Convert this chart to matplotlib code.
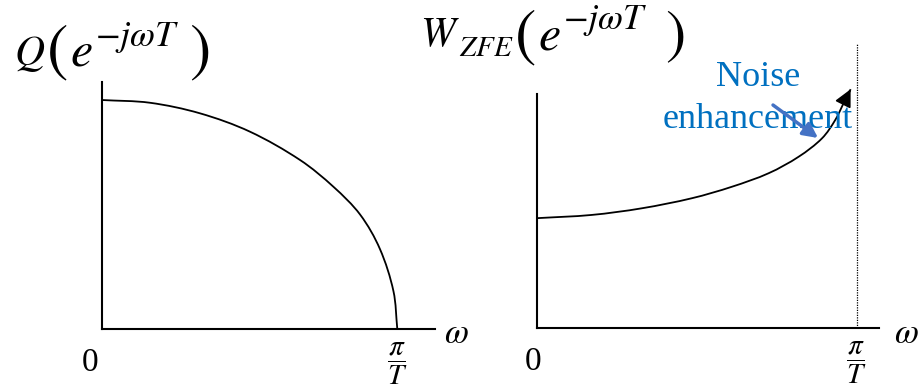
import matplotlib.pyplot as plt
from matplotlib.path import Path
from matplotlib.patches import PathPatch

plt.rcParams['mathtext.fontset'] = 'stix'
plt.rcParams['font.family'] = ['Liberation Serif', 'DejaVu Serif']

# normalised frequency (1 = pi/T) and magnitude samples of the two sketches
omega_q = [0.0, 0.163, 0.332, 0.501, 0.671, 0.784, 0.874, 0.941, 0.987, 1.0]
q_mag = [1.0, 0.988, 0.942, 0.862, 0.738, 0.621, 0.500, 0.350, 0.165, 0.0]

omega_w = [0.0, 0.170, 0.327, 0.484, 0.609, 0.724, 0.818, 0.891, 0.933, 0.959, 0.981]
w_mag = [0.481, 0.495, 0.524, 0.568, 0.618, 0.677, 0.749, 0.829, 0.910, 0.983, 1.044]

tick_labels = ['0', r'$\dfrac{\pi}{T}$']
x_label = r'$\omega$'
title_names = [r'$Q$', r'$W$']
title_sub = r'$ZFE$'
title_base = r'$e$'
title_exp = r'$-j\omega T$'
note = 'Noise\nenhancement'

W, H = 924, 386
fig = plt.figure(figsize=(W / 100, H / 100), dpi=100)


def px_axes(x0, x1, y_top, y_bot):
    return fig.add_axes([x0 / W, (H - y_bot) / H, (x1 - x0) / W, (y_bot - y_top) / H])


def px_text(x, y, s, **kw):
    return fig.text(x / W, 1 - y / H, s, **kw)


def style(ax):
    for s in ['top', 'right']:
        ax.spines[s].set_visible(False)
    for s in ['left', 'bottom']:
        ax.spines[s].set_linewidth(1.5)
    ax.set_xticks([])
    ax.set_yticks([])
    ax.patch.set_alpha(0)


def smooth_curve(ax, xs, ys, **kw):
    # chord-length Catmull-Rom through the samples, drawn as cubic Beziers
    pts = list(zip(xs, ys))
    n = len(pts)
    t = [0.0]
    for i in range(1, n):
        dx = pts[i][0] - pts[i - 1][0]
        dy = pts[i][1] - pts[i - 1][1]
        t.append(t[-1] + (dx * dx + dy * dy) ** 0.5)
    tang = []
    for i in range(n):
        a, b = max(i - 1, 0), min(i + 1, n - 1)
        dt = t[b] - t[a]
        tang.append(((pts[b][0] - pts[a][0]) / dt, (pts[b][1] - pts[a][1]) / dt))
    verts = [pts[0]]
    codes = [Path.MOVETO]
    for i in range(n - 1):
        h = (t[i + 1] - t[i]) / 3
        c1 = (pts[i][0] + tang[i][0] * h, pts[i][1] + tang[i][1] * h)
        c2 = (pts[i + 1][0] - tang[i + 1][0] * h, pts[i + 1][1] - tang[i + 1][1] * h)
        verts += [c1, c2, pts[i + 1]]
        codes += [Path.CURVE4] * 3
    ax.add_patch(PathPatch(Path(verts, codes), fill=False, clip_on=False, **kw))


# left panel: Q
ax1 = px_axes(101.7, 435, 82, 329)
ax1.set_xlim(0, (435 - 101.7) / 295.6)
ax1.set_ylim(0, (329 - 82) / 229)
style(ax1)
smooth_curve(ax1, omega_q, q_mag, color='black', lw=1.3)
ax1.text(-0.04, -0.08, tick_labels[0], ha='center', va='top', fontsize=24)
ax1.text(1.0, -0.05, tick_labels[1], ha='center', va='top', fontsize=21)
ax1.text(1.199, -0.025, x_label, ha='center', va='center', fontsize=25)

# right panel: W_ZFE
ax2 = px_axes(537.3, 879, 94, 328.3)
ax2.set_xlim(0, (879 - 537.3) / 319.4)
ax2.set_ylim(0, (328.3 - 94) / 229)
style(ax2)
smooth_curve(ax2, omega_w, w_mag, color='black', lw=1.3)
ax2.annotate('', xy=(omega_w[-1], w_mag[-1]), xytext=(omega_w[-2], w_mag[-2]),
             arrowprops=dict(arrowstyle='-|>', color='black', lw=1.3,
                             mutation_scale=26, shrinkA=0, shrinkB=0),
             annotation_clip=False)
ax2.plot([1, 1], [0, 1.246], color='black', lw=0.9, ls=(0, (1, 1)), clip_on=False)
ax2.text(-0.012, -0.08, tick_labels[0], ha='center', va='top', fontsize=24)
ax2.text(1.0, -0.05, tick_labels[1], ha='center', va='top', fontsize=21)
ax2.text(1.154, -0.025, x_label, ha='center', va='center', fontsize=25)

ax2.text(0.691, 1.003, note, ha='center', va='center', color='#0070C0',
         fontsize=26, linespacing=1.33)
ax2.annotate('', xy=(0.879, 0.831), xytext=(0.738, 0.975),
             arrowprops=dict(arrowstyle='-|>', color='#4472C4', lw=2.5,
                             mutation_scale=22, shrinkA=0, shrinkB=0),
             annotation_clip=False)

# titles, set piece by piece so brackets and exponent can be sized freely
px_text(14, 65, title_names[0], ha='left', va='baseline', fontsize=30)
px_text(57, 53, r'$($', ha='center', va='center', fontsize=46)
px_text(70, 66, title_base, ha='left', va='baseline', fontsize=36)
px_text(95, 46, title_exp, ha='left', va='baseline', fontsize=26)
px_text(199, 53, r'$)$', ha='center', va='center', fontsize=46)

px_text(420, 46, title_names[1], ha='left', va='baseline', fontsize=30)
px_text(459, 56, title_sub, ha='left', va='baseline', fontsize=21)
px_text(525, 38, r'$($', ha='center', va='center', fontsize=46)
px_text(538, 50, title_base, ha='left', va='baseline', fontsize=36)
px_text(563, 29, title_exp, ha='left', va='baseline', fontsize=26)
px_text(675, 37, r'$)$', ha='center', va='center', fontsize=44)

fig.savefig('out.png', dpi=100)
